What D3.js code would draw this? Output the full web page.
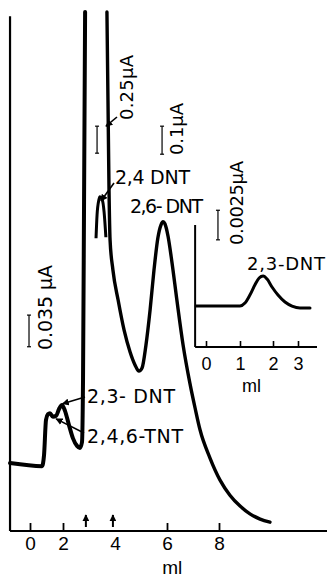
<!DOCTYPE html>
<html>
<head>
<meta charset="utf-8">
<script src="https://cdn.jsdelivr.net/npm/d3@7"></script>
<style>
  html, body { margin: 0; padding: 0; background: #fff; }
  svg { display: block; font-family: "DejaVu Sans", sans-serif; }
</style>
</head>
<body>
<script>
// main trace, rising side up to the off-scale peak (ml, current in arbitrary units)
const riseMl = [-1.21, 0.73, 0.85, 0.97, 1.09, 1.21, 1.39, 1.58, 1.76, 1.94, 2.08, 2.23, 2.38, 2.54, 2.65, 2.73, 2.77, 2.81, 2.85];
const riseI = [13.1, 12.5, 14.6, 21.4, 22.5, 22.7, 22.0, 22.2, 23.5, 24.3, 23.1, 20.4, 17.9, 16.4, 16.0, 17.1, 29.1, 63.8, 100];

// main trace, from the off-scale peak down through the 2,6-DNT peak
const fallMl = [3.69, 3.73, 3.77, 3.81, 3.92, 4.12, 4.35, 4.58, 4.77, 4.92, 5.04, 5.19, 5.35, 5.50, 5.65, 5.77, 5.85, 5.92, 6.04, 6.19, 6.38, 6.62, 6.88, 7.08, 7.27, 7.65, 8.04, 8.42, 8.81, 9.19, 9.58, 9.96];
const fallI = [100, 83.0, 65.7, 56.1, 50.3, 44.5, 38.7, 34.5, 32.0, 30.8, 31.4, 35.8, 42.6, 50.3, 56.5, 59.0, 59.6, 59.2, 56.8, 51.8, 44.5, 35.8, 28.5, 23.7, 19.5, 14.1, 9.8, 6.9, 4.8, 3.3, 2.3, 1.7];

// 2,4 DNT peak drawn at higher sensitivity
const dntMl = [3.27, 3.31, 3.38, 3.42, 3.50, 3.58, 3.65];
const dntI = [56.4, 60.9, 63.8, 64.4, 64.0, 61.5, 56.6];

// inset: 2,3-DNT
const insetMl = [-0.29, 1.0, 1.15, 1.30, 1.45, 1.58, 1.70, 1.82, 1.97, 2.2, 2.48, 2.76, 3.08, 3.48];
const insetI = [3.36, 3.36, 3.6, 4.26, 5.08, 5.66, 5.82, 5.57, 4.92, 4.26, 3.69, 3.36, 3.2, 3.2];

const xTickLabels = [0, 2, 4, 6, 8];
const xTickMarks = [0, 2, 6, 8];
const injectionMl = [2.88, 3.92];
const insetTicks = [0, 1, 2, 3];

// current scale bars: position (ml) and extent (units)
const bars = [
  {ml: 3.31, lo: 72.8, hi: 78.0, label: '0.25µA', dx: 36, y0: 120, size: 18, len: 65},
  {ml: 5.81, lo: 72.6, hi: 78.0, label: '0.1µA', dx: 21, y0: 155, size: 18, len: 52},
  {ml: -0.06, lo: 35.5, hi: 41.6, label: '0.035 µA', dx: 23, y0: 350, size: 19, len: 85},
  {ml: 7.96, lo: 56.1, hi: 61.8, label: '0.0025µA', dx: 25, y0: 245, size: 18, len: 84}
];

const W = 327, H = 577;
const svg = d3.select('body').append('svg').attr('width', W).attr('height', H);

const x = d3.scaleLinear().domain([0, 2, 8]).range([30, 63, 219]);
const y = d3.scaleLinear().domain([0, 100]).range([531, 12]);
const xi = d3.scaleLinear().domain([0, 1, 2, 3]).range([206, 240, 273, 298]);
const yi = d3.scaleLinear().domain([0, 10]).range([347, 225]);

svg.append('defs').append('marker')
  .attr('id', 'head')
  .attr('viewBox', '0 0 10 10')
  .attr('refX', 9).attr('refY', 5)
  .attr('markerWidth', 7).attr('markerHeight', 7)
  .attr('markerUnits', 'userSpaceOnUse')
  .attr('orient', 'auto')
  .append('path').attr('d', 'M0,0L10,5L0,10Z').attr('fill', '#000');

// main axes
svg.append('line')
  .attr('x1', x(-1.21)).attr('x2', x(-1.21))
  .attr('y1', y(0)).attr('y2', y(99.2))
  .attr('stroke', '#000').attr('stroke-width', 2.2);
svg.append('line')
  .attr('x1', x(-1.21)).attr('x2', W)
  .attr('y1', y(0)).attr('y2', y(0))
  .attr('stroke', '#000').attr('stroke-width', 2);

const gx = svg.append('g')
  .attr('transform', `translate(0,${y(0)})`)
  .call(d3.axisBottom(x).tickValues(xTickLabels).tickSize(-8).tickPadding(6).tickFormat(d3.format('d')));
gx.attr('font-family', '"Liberation Sans", Arial, sans-serif').attr('font-size', 19);
gx.select('.domain').remove();
gx.selectAll('.tick line').attr('stroke-width', 1.8).filter(d => !xTickMarks.includes(d)).remove();
gx.selectAll('.tick text').attr('fill', '#000');

svg.append('text')
  .attr('x', x(6.2)).attr('y', 574)
  .attr('text-anchor', 'middle').attr('font-size', 19)
  .attr('font-family', '"Liberation Sans", Arial, sans-serif')
  .text('ml');

// injection arrows on the x axis
svg.append('g').selectAll('line')
  .data(injectionMl)
  .join('line')
  .attr('x1', d => x(d)).attr('x2', d => x(d))
  .attr('y1', y(0) - 4).attr('y2', y(0) - 16)
  .attr('stroke', '#000').attr('stroke-width', 2)
  .attr('marker-end', 'url(#head)');

const lineMain = d3.line().x(d => x(d[0])).y(d => y(d[1])).curve(d3.curveMonotoneX);

svg.append('path')
  .attr('d', lineMain(d3.zip(riseMl, riseI)))
  .attr('fill', 'none').attr('stroke', '#000').attr('stroke-width', 4)
  .attr('stroke-linejoin', 'round').attr('stroke-linecap', 'round');

svg.append('path')
  .attr('d', lineMain(d3.zip(fallMl, fallI)))
  .attr('fill', 'none').attr('stroke', '#000').attr('stroke-width', 3.4)
  .attr('stroke-linejoin', 'round').attr('stroke-linecap', 'round');

svg.append('path')
  .attr('d', lineMain(d3.zip(dntMl, dntI)))
  .attr('fill', 'none').attr('stroke', '#000').attr('stroke-width', 3)
  .attr('stroke-linejoin', 'round').attr('stroke-linecap', 'butt');

// scale bars with rotated labels
const gb = svg.append('g').selectAll('g').data(bars).join('g');
gb.append('line')
  .attr('x1', d => x(d.ml)).attr('x2', d => x(d.ml))
  .attr('y1', d => y(d.lo)).attr('y2', d => y(d.hi))
  .attr('stroke', '#000').attr('stroke-width', 1.2);
gb.selectAll('.cap')
  .data(d => [[d.ml, d.lo], [d.ml, d.hi]])
  .join('line')
  .attr('x1', d => x(d[0]) - 2).attr('x2', d => x(d[0]) + 2)
  .attr('y1', d => y(d[1])).attr('y2', d => y(d[1]))
  .attr('stroke', '#000').attr('stroke-width', 1.2);
gb.append('text')
  .attr('transform', d => `translate(${x(d.ml) + d.dx},${d.y0}) rotate(-90)`)
  .attr('font-size', d => d.size)
  .attr('textLength', d => d.len)
  .text(d => d.label);

// peak labels with leader arrows
const peakLabels = [
  {text: '2,4 DNT', tx: 115, ty: 184, len: 75, from: [114, 183], to: [dntMl[3] + 0.04, dntI[3] - 0.8]},
  {text: '2,6- DNT', tx: 130, ty: 213, len: 73},
  {text: '2,3- DNT', tx: 87, ty: 403, len: 88, from: [85, 397], to: [riseMl[9] + 0.03, riseI[9] + 0.2]},
  {text: '2,4,6-TNT', tx: 87, ty: 443, len: 96, from: [84, 433], to: [riseMl[7], riseI[7] - 0.6]}
];
svg.append('g').selectAll('text').data(peakLabels).join('text')
  .attr('x', d => d.tx).attr('y', d => d.ty)
  .attr('font-size', 19)
  .attr('textLength', d => d.len)
  .text(d => d.text);
svg.append('g').selectAll('line').data(peakLabels.filter(d => d.from)).join('line')
  .attr('x1', d => d.from[0]).attr('y1', d => d.from[1])
  .attr('x2', d => x(d.to[0])).attr('y2', d => y(d.to[1]))
  .attr('stroke', '#000').attr('stroke-width', 1.6)
  .attr('marker-end', 'url(#head)');

// 0.25 µA leader to the descending trace
svg.append('line')
  .attr('x1', 117).attr('y1', 117)
  .attr('x2', x(fallMl[1]) - 2).attr('y2', y(78))
  .attr('stroke', '#000').attr('stroke-width', 1.6)
  .attr('marker-end', 'url(#head)');

// inset
const gi = svg.append('g');
gi.append('line')
  .attr('x1', xi(-0.32)).attr('x2', xi(-0.32))
  .attr('y1', yi(0)).attr('y2', yi(10))
  .attr('stroke', '#000').attr('stroke-width', 2);
gi.append('line')
  .attr('x1', xi(-0.32)).attr('x2', xi(3.76))
  .attr('y1', yi(0)).attr('y2', yi(0))
  .attr('stroke', '#000').attr('stroke-width', 2);
const gix = gi.append('g')
  .attr('transform', `translate(0,${yi(0)})`)
  .call(d3.axisBottom(xi).tickValues(insetTicks).tickSize(-6).tickPadding(10).tickFormat(d3.format('d')));
gix.attr('font-family', '"Liberation Sans", Arial, sans-serif').attr('font-size', 18);
gix.select('.domain').remove();
gix.selectAll('.tick line').attr('stroke-width', 1.6);
gix.selectAll('.tick text').attr('fill', '#000');
gi.append('text')
  .attr('x', xi(1.35)).attr('y', 392)
  .attr('text-anchor', 'middle').attr('font-size', 18)
  .attr('font-family', '"Liberation Sans", Arial, sans-serif')
  .text('ml');
gi.append('path')
  .attr('d', d3.line().x(d => xi(d[0])).y(d => yi(d[1])).curve(d3.curveMonotoneX)(d3.zip(insetMl, insetI)))
  .attr('fill', 'none').attr('stroke', '#000').attr('stroke-width', 3)
  .attr('stroke-linejoin', 'round').attr('stroke-linecap', 'round');
gi.append('text')
  .attr('x', 247).attr('y', 270)
  .attr('font-size', 18)
  .attr('textLength', 78)
  .text('2,3-DNT');
</script>
</body>
</html>
